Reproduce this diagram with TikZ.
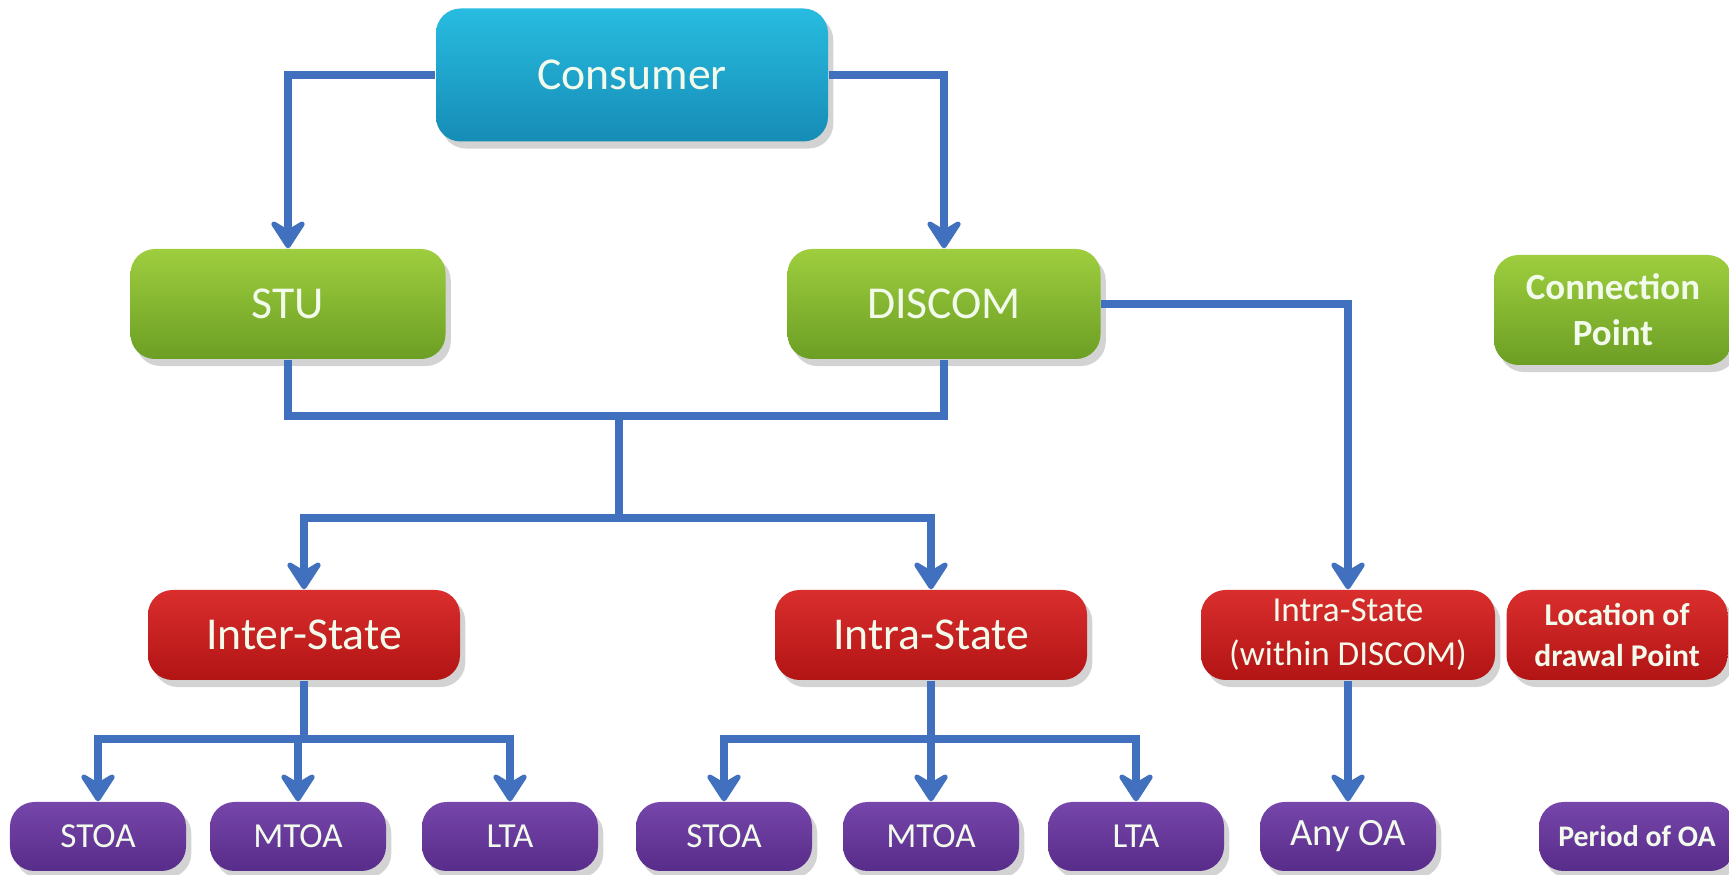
\documentclass[tikz,border=0pt]{standalone}
\usepackage{fontspec}
\setmainfont{Carlito}
\usetikzlibrary{arrows.meta,shadows}

\definecolor{cyantop}{RGB}{40,188,224}
\definecolor{cyanbot}{RGB}{22,140,182}
\definecolor{greentop}{RGB}{158,206,62}
\definecolor{greenbot}{RGB}{108,158,36}
\definecolor{redtop}{RGB}{218,46,46}
\definecolor{redbot}{RGB}{178,20,20}
\definecolor{violettop}{RGB}{118,70,170}
\definecolor{violetbot}{RGB}{88,44,138}
\definecolor{linkblue}{RGB}{64,112,190}
\definecolor{boxtext}{RGB}{242,250,236}

\begin{document}
\begin{tikzpicture}
    \tikzstyle{every node}=[font=\fontsize{13}{15}\selectfont, text=boxtext, align=center, inner sep=0pt]
    \tikzstyle{box}=[rounded corners=7pt, drop shadow={shadow xshift=1.5pt, shadow yshift=-2pt, opacity=0.35}]
    \tikzstyle{rootbox}=[box, top color=cyantop, bottom color=cyanbot, minimum width=3.92cm, minimum height=1.33cm]
    \tikzstyle{pointbox}=[box, top color=greentop, bottom color=greenbot, minimum width=3.15cm, minimum height=1.1cm]
    \tikzstyle{placebox}=[box, top color=redtop, bottom color=redbot, minimum width=3.12cm, minimum height=0.9cm]
    \tikzstyle{termbox}=[box, top color=violettop, bottom color=violetbot, minimum width=1.76cm, minimum height=0.69cm, font=\fontsize{10}{12}\selectfont]
    \tikzstyle{link}=[draw=linkblue, line width=2.1pt]
    \tikzstyle{arr}=[link, -{Stealth[length=0.34cm, width=0.44cm, inset=0.13cm, round]}]

    \useasboundingbox (0,0) rectangle (17.29,8.75);

    % boxes
    \node[rootbox] (consumer) at (6.32,8.00) {Consumer};
    \node[pointbox] (stu) at (2.88,5.71) {STU};
    \node[pointbox, minimum width=3.13cm] (discom) at (9.44,5.71) {DISCOM};
    \node[pointbox, minimum width=2.38cm, font=\fontsize{10.5}{13}\selectfont\bfseries] (conn) at (16.13,5.65) {Connection\\Point};

    \node[placebox] (inter) at (3.04,2.40) {Inter-State};
    \node[placebox] (intra) at (9.31,2.40) {Intra-State};
    \node[placebox, minimum width=2.94cm, font=\fontsize{10}{12.5}\selectfont] (within) at (13.48,2.40) {Intra-State\\(within DISCOM)};
    \node[placebox, minimum width=2.21cm, font=\fontsize{9}{11.5}\selectfont\bfseries] (drawal) at (16.17,2.40) {Location of\\drawal Point};

    \node[termbox] (stoaA) at (0.98,0.385) {STOA};
    \node[termbox] (mtoaA) at (2.98,0.385) {MTOA};
    \node[termbox] (ltaA) at (5.10,0.385) {LTA};
    \node[termbox] (stoaB) at (7.24,0.385) {STOA};
    \node[termbox] (mtoaB) at (9.31,0.385) {MTOA};
    \node[termbox] (ltaB) at (11.36,0.385) {LTA};
    \node[termbox, font=\fontsize{11}{13}\selectfont] (anyoa) at (13.48,0.385) {Any OA};
    \node[termbox, minimum width=1.96cm, font=\fontsize{8.5}{10}\selectfont\bfseries] (period) at (16.37,0.385) {Period of OA};

    % connectors
    \coordinate (busA) at (6.19,4.59);
    \coordinate (busB) at (6.19,3.57);
    \coordinate (forkA) at (3.04,1.36);
    \coordinate (forkB) at (9.31,1.36);

    \draw[arr] (consumer.west) -| (stu.north);
    \draw[arr] (consumer.east) -| (discom.north);
    \draw[link] (stu.south) |- (busA) -| (discom.south);
    \draw[link] (busA) -- (busB);
    \draw[arr] (busB) -| (inter.north);
    \draw[arr] (busB) -| (intra.north);
    \draw[arr] (discom.east) -| (within.north);

    \draw[link] (inter.south) -- (forkA);
    \foreach \t in {stoaA,mtoaA,ltaA}
        \draw[arr] (forkA) -| (\t.north);
    \draw[link] (intra.south) -- (forkB);
    \foreach \t in {stoaB,mtoaB,ltaB}
        \draw[arr] (forkB) -| (\t.north);
    \draw[arr] (within.south) -- (anyoa.north);
\end{tikzpicture}
\end{document}
